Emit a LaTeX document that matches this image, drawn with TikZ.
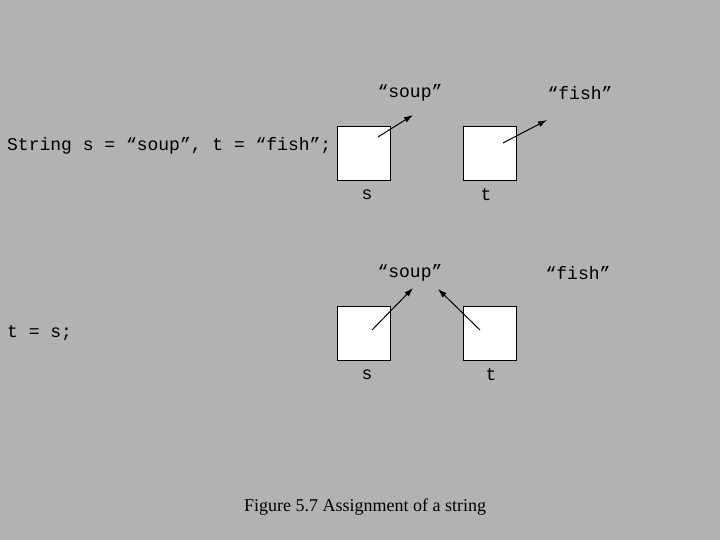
\documentclass[tikz,border=0pt]{standalone}
\usepackage{fontspec}
\setmainfont{Liberation Serif}
\newfontfamily\codefont{Liberation Mono}
\usetikzlibrary{arrows.meta}
\definecolor{bg}{RGB}{178,178,178}
\begin{document}
\begin{tikzpicture}[x=1pt,y=-1pt,
  box/.style={draw=black,fill=white,minimum width=53pt,minimum height=54pt,inner sep=0pt},
  code/.style={font=\codefont\fontsize{18}{20}\selectfont,inner sep=0pt},
  ptr/.style={-{Latex[length=9pt,width=6pt]},line width=1pt}]
\fill[bg] (0,0) rectangle (720,540);
\useasboundingbox (0,0) rectangle (720,540);
% top
\node[code] (soup1) at (410,93) {“soup”};
\node[code] (fish1) at (580,93) {“fish”};
\node[code,anchor=west] (decl) at (7,146) {String s = “soup”, t = “fish”;};
\node[box] (s1) at (363.5,153) {};
\node[box] (t1) at (489.5,153) {};
\node[code] (ls1) at (367,195) {s};
\node[code] (lt1) at (486,195) {t};
\coordinate (a1) at (378,137); \coordinate (b1) at (413,115);
\coordinate (a2) at (503,143); \coordinate (b2) at (547,120);
\draw[ptr] (a1) -- (b1);
\draw[ptr] (a2) -- (b2);
% bottom
\node[code] (soup2) at (410,273) {“soup”};
\node[code] (fish2) at (578,273) {“fish”};
\node[code,anchor=west] (asg) at (7,333) {t = s;};
\node[box] (s2) at (363.5,333) {};
\node[box] (t2) at (489.5,333) {};
\node[code] (ls2) at (367,375) {s};
\node[code] (lt2) at (491,375) {t};
\coordinate (a3) at (372,330); \coordinate (b3) at (413,288);
\coordinate (a4) at (480,330); \coordinate (b4) at (438,289);
\draw[ptr] (a3) -- (b3);
\draw[ptr] (a4) -- (b4);
\node[font=\fontsize{18}{20}\selectfont] (cap) at (365,507) {Figure 5.7 Assignment of a string};
\end{tikzpicture}
\end{document}
